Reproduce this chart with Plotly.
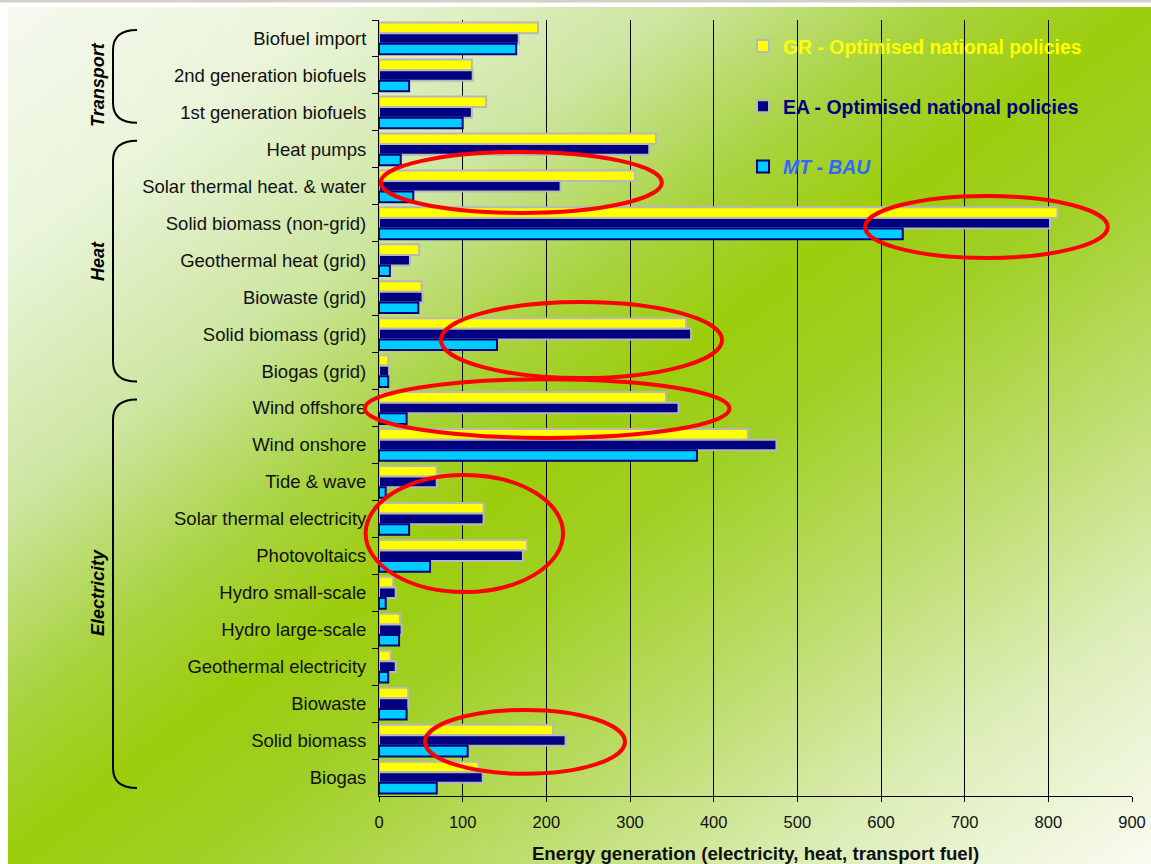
import base64
import struct
import zlib

import numpy as np
import plotly.graph_objects as go

# ---------------- data ----------------
categories = [
    "Biofuel import", "2nd generation biofuels", "1st generation biofuels",
    "Heat pumps", "Solar thermal heat. & water", "Solid biomass (non-grid)",
    "Geothermal heat (grid)", "Biowaste (grid)", "Solid biomass (grid)", "Biogas (grid)",
    "Wind offshore", "Wind onshore", "Tide & wave", "Solar thermal electricity",
    "Photovoltaics", "Hydro small-scale", "Hydro large-scale", "Geothermal electricity",
    "Biowaste", "Solid biomass", "Biogas",
]
gr_values = [190, 111, 128, 331, 306, 811, 48, 51, 367, 11,
             343, 441, 69, 125, 177, 17, 25, 14, 35, 208, 119]
ea_values = [167, 112, 111, 323, 217, 802, 37, 52, 373, 12,
             358, 475, 69, 125, 172, 20, 27, 20, 35, 223, 124]
mt_values = [164, 36, 100, 26, 41, 626, 13, 47, 141, 11,
             33, 380, 8, 36, 61, 8, 24, 11, 33, 106, 69]
series_names = ["GR - Optimised national policies", "EA - Optimised national policies", "MT - BAU"]
x_ticks = [0, 100, 200, 300, 400, 500, 600, 700, 800, 900]

# groups: (label, first category index, last category index)
groups = [("Transport", 0, 2), ("Heat", 3, 9), ("Electricity", 10, 20)]

# highlighted regions: (x0, x1, category-index0, category-index1)
highlights = [
    (2, 338, 3.07, 4.72),
    (581, 871, 4.26, 5.94),
    (74, 410, 7.13, 9.19),
    (-17, 419, 9.22, 10.81),
    (-16, 220, 11.81, 14.98),
    (55, 294, 18.17, 19.9),
]

# ---------------- geometry helpers ----------------
W, H = 1151, 864
ML, MR, MT_, MB = 379, 19, 20, 68
PW, PH = W - ML - MR, H - MT_ - MB
XMAX = 900
NCAT = len(categories)


def px2x(px):
    return (px - ML) / PW


def px2y(py):
    return (H - MB - py) / PH


def val2x(v):
    return v / XMAX


def idx2y(i):
    return 1 - (i + 0.5) / NCAT


# ---------------- background gradient image ----------------
def png_bytes(arr):
    h, w, _ = arr.shape
    raw = b"".join(b"\x00" + arr[i].tobytes() for i in range(h))

    def chunk(tag, data):
        c = struct.pack(">I", len(data)) + tag + data
        return c + struct.pack(">I", zlib.crc32(tag + data) & 0xFFFFFFFF)

    return (b"\x89PNG\r\n\x1a\n"
            + chunk(b"IHDR", struct.pack(">IIBBBBB", w, h, 8, 2, 0, 0, 0))
            + chunk(b"IDAT", zlib.compress(raw, 9))
            + chunk(b"IEND", b""))


gw, gh = 288, 216
gx = np.linspace(8, W, gw)[None, :]
gy = np.linspace(7, H, gh)[:, None]
t = (gx / W + gy / H) / 2.0
stops_t = [0.0, 0.15, 0.3, 0.42, 0.5, 0.58, 0.7, 0.85, 1.0]
stops_c = [(246, 250, 240), (234, 245, 218), (205, 230, 160), (168, 211, 60),
           (156, 206, 14), (160, 208, 36), (186, 220, 100), (222, 238, 185), (250, 252, 242)]
img = np.zeros((gh, gw, 3), dtype=np.uint8)
for ch in range(3):
    img[:, :, ch] = np.clip(np.interp(t, stops_t, [c[ch] for c in stops_c]), 0, 255).astype(np.uint8)
src = "data:image/png;base64," + base64.b64encode(png_bytes(img)).decode()

# ---------------- figure ----------------
fig = go.Figure()
styles = [
    dict(color="#FFFF00", line=dict(color="#B8B8B8", width=2)),
    dict(color="#000080", line=dict(color="#B8B8B8", width=2)),
    dict(color="#00CCFF", line=dict(color="#000080", width=2)),
]
labels = [
    "<b><span style='color:#FFFF00'>GR - Optimised national policies</span></b>",
    "<b><span style='color:#000080'>EA - Optimised national policies</span></b>",
    "<b><i><span style='color:#3366FF'>MT - BAU</span></i></b>",
]
for vals, name, st, lab in zip([gr_values, ea_values, mt_values], series_names, styles, labels):
    fig.add_trace(go.Bar(
        x=vals, y=categories, orientation="h", name=lab, legendgroup=name,
        marker=st, hovertext=name,
    ))

shapes = []
# top grey strip
shapes.append(dict(type="rect", xref="paper", yref="paper", layer="above",
                   x0=px2x(0), x1=px2x(W), y0=px2y(0), y1=px2y(2.5),
                   fillcolor="#D4D0C8", line=dict(width=0)))

# braces
for label, i0, i1 in groups:
    ytop = MT_ + i0 * PH / NCAT + 10
    ybot = MT_ + (i1 + 1) * PH / NCAT - 8
    xe, xv = 137, 113
    path = (f"M {px2x(xe)},{px2y(ytop)} "
            f"C {px2x(xv + 8)},{px2y(ytop)} {px2x(xv)},{px2y(ytop + 6)} {px2x(xv)},{px2y(ytop + 20)} "
            f"L {px2x(xv)},{px2y(ybot - 20)} "
            f"C {px2x(xv)},{px2y(ybot - 6)} {px2x(xv + 8)},{px2y(ybot)} {px2x(xe)},{px2y(ybot)}")
    shapes.append(dict(type="path", xref="paper", yref="paper", path=path,
                       line=dict(color="black", width=2)))

# red ellipses
for x0, x1, c0, c1 in highlights:
    shapes.append(dict(type="circle", xref="paper", yref="paper", layer="above",
                       x0=val2x(x0), x1=val2x(x1), y0=idx2y(c1), y1=idx2y(c0),
                       line=dict(color="#FF0000", width=4)))

annotations = []
label_y = {"Transport": 85, "Heat": 261, "Electricity": 593}
for label, i0, i1 in groups:
    annotations.append(dict(
        text=f"<b><i>{label}</i></b>", xref="paper", yref="paper",
        x=px2x(98), y=px2y(label_y[label]), showarrow=False, textangle=-90,
        font=dict(family="Liberation Sans, Arial", size=18, color="black"),
        xanchor="center", yanchor="middle",
    ))

fig.update_layout(
    width=W, height=H,
    margin=dict(l=ML, r=MR, t=MT_, b=MB, pad=0, autoexpand=False),
    paper_bgcolor="white",
    plot_bgcolor="rgba(0,0,0,0)",
    barmode="group", bargap=0.14, bargroupgap=0.0,
    font=dict(family="Liberation Sans, Arial", size=16, color="#111111"),
    images=[dict(source=src, xref="paper", yref="paper",
                 x=px2x(8), y=px2y(7), sizex=(W - 8) / PW, sizey=(H - 7) / PH,
                 xanchor="left", yanchor="top", sizing="stretch", layer="below")],
    shapes=shapes,
    annotations=annotations,
    showlegend=True,
    legend=dict(x=px2x(743), y=px2y(27), xanchor="left", yanchor="top",
                bgcolor="rgba(0,0,0,0)", tracegroupgap=32,
                font=dict(family="Liberation Sans, Arial", size=19.4)),
    xaxis=dict(range=[0, XMAX], tickvals=x_ticks, ticktext=[str(v) for v in x_ticks],
               automargin=False,
               showgrid=True, gridcolor="black", gridwidth=1, zeroline=False,
               showline=True, linecolor="black", linewidth=1,
               ticks="outside", ticklen=5, tickcolor="black",
               ticklabelstandoff=6,
               tickfont=dict(size=16.5, color="#111111"),
               title=dict(text="<b>Energy generation (electricity, heat, transport fuel)</b>",
                          font=dict(family="Liberation Sans, Arial", size=18.7,
                                    color="#111111"),
                          standoff=19)),
    yaxis=dict(autorange="reversed", categoryorder="array", categoryarray=categories,
               automargin=False,
               showgrid=False, showline=True, linecolor="black", linewidth=1,
               ticks="outside", ticklen=6, tickcolor="black", tickson="boundaries",
               ticklabelstandoff=8,
               tickfont=dict(size=18.5, color="#111111")),
)

fig.write_html("out.html")
